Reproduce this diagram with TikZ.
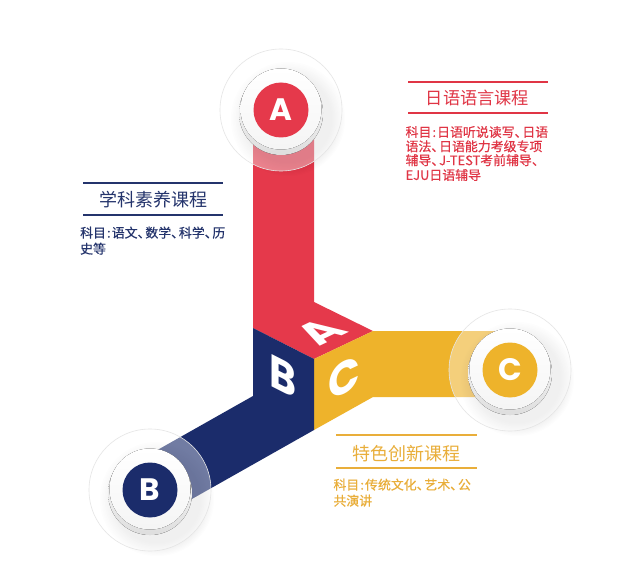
\documentclass[tikz,border=0pt]{standalone}
\usepackage{fontspec}
\newfontfamily\cjk{Noto Sans CJK SC}
\newfontfamily\cjkbody{Noto Sans CJK SC}[FakeBold=0.5]
\newfontfamily\letterfont{Poppins}
\definecolor{ared}{HTML}{E5394B}
\definecolor{anavy}{HTML}{1B2C6B}
\definecolor{ayellow}{HTML}{EEB32B}
\definecolor{tred}{HTML}{E03545}
\definecolor{tnavy}{HTML}{24346C}
\definecolor{tyellow}{HTML}{E9AE3A}
\newcommand\dun{\rlap{、}\hspace{0.6em}}
\newcommand\cln{\makebox[0.45em]{:}}
\newcommand\drawbadge[5]{%
  \begin{scope}[shift={(#2,#3)}]
    \foreach \k in {0,...,11} {\fill[black,opacity=0.009] (7,9) circle ({44pt+\k*1.2pt});}
    \fill[white,opacity=0.38] (0,0) circle (61pt);
    \draw[black!10,line width=0.6pt] (0,0) circle (61pt);
    \fill[top color=white,bottom color=black!13] (0,3) circle (42pt);
    \fill[top color=white,bottom color=black!4] (0,-1) circle (40.5pt);
    \node[badgedot,fill=#4] (#1) at (0,0) {#5};
  \end{scope}}
\begin{document}
\begin{tikzpicture}[x=1pt,y=-1pt,
  rulered/.style={draw=tred,line width=2pt},
  rulenavy/.style={draw=tnavy,line width=2pt},
  ruleyellow/.style={draw=tyellow,line width=2pt},
  titletext/.style={inner sep=0pt,anchor=center},
  bodytext/.style={inner sep=0pt,anchor=base west,font={\cjkbody\fontsize{12.9pt}{14pt}\selectfont}},
  cubeletter/.style={inner sep=0pt,text=white,transform shape,font={\letterfont\bfseries\fontsize{46pt}{46pt}\selectfont}},
  badgedot/.style={circle,minimum size=55pt,inner sep=0pt,text=white,font={\letterfont\bfseries\fontsize{31pt}{31pt}\selectfont}}]
\path[use as bounding box,fill=white] (0,0) rectangle (641,578);

% cube vertices
\coordinate (L) at (253,328);
\coordinate (O) at (314,359);
\coordinate (R) at (373,331);
\coordinate (T) at (314,302);
\coordinate (Lp) at (253,396);
\coordinate (Op) at (314,430);
\coordinate (Rp) at (373,397);
\coordinate (Bt) at (122.4,469.8);
\coordinate (Bb) at (183.4,503.8);
\coordinate (At) at (253,110);
\coordinate (Ar) at (314,110);
\coordinate (Ct) at (510,331);
\coordinate (Cb) at (510,397);

% arms and faces
\fill[ared] (At) -- (L) -- (O) -- (R) -- (T) -- (Ar) -- cycle;
\fill[ayellow] (O) -- (R) -- (Ct) -- (Cb) -- (Rp) -- (Op) -- cycle;
\fill[anavy] (L) -- (O) -- (Op) -- (Bb) -- (Bt) -- (Lp) -- cycle;

% letters on cube faces
\begin{scope}[cm={0.903,0.429,-0.892,0.453,(320,332)}]
  \node[cubeletter] (cA) at (0,0) {A};
\end{scope}
\begin{scope}[cm={0.892,-0.453,0,1,(283.5,376)}]
  \node[cubeletter] (cB) at (0,0) {B};
\end{scope}
\begin{scope}[cm={0.903,0.429,0,1,(344,378)}]
  \node[cubeletter] (cC) at (0,0) {C};
\end{scope}

% badges
\drawbadge{badgeA}{281}{110}{ared}{A}
\drawbadge{badgeB}{150}{490}{anavy}{B}
\drawbadge{badgeC}{510}{370}{ayellow}{C}

% red text block
\draw[rulered] (408.3,81.7) -- (548.3,81.7);
\draw[rulered] (408.3,113.3) -- (548.3,113.3);
\node[titletext,text=tred,font={\cjk\fontsize{17.2pt}{17.2pt}\selectfont}] (redtitle) at (477.5,98.3) {日语语言课程};
\node[bodytext,text=tred] (red1) at (405.4,136.9) {科目\cln 日语听说读写\dun 日语};
\node[bodytext,text=tred] (red2) at (405.4,151.2) {语法\dun 日语能力考级专项};
\node[bodytext,text=tred] (red3) at (405.4,165.1) {辅导\dun J-TEST考前辅导、};
\node[bodytext,text=tred] (red4) at (405.4,179.9) {EJU日语辅导};

% navy text block
\draw[rulenavy] (83.3,182.7) -- (223.3,182.7);
\draw[rulenavy] (83.3,215) -- (223.3,215);
\node[titletext,text=tnavy,font={\cjk\fontsize{18pt}{18pt}\selectfont}] (navytitle) at (153.3,200) {学科素养课程};
\node[bodytext,text=tnavy] (navy1) at (80,237.6) {科目\cln 语文\dun 数学\dun 科学\dun 历};
\node[bodytext,text=tnavy] (navy2) at (80,253.6) {史等};

% yellow text block
\draw[ruleyellow] (336,435) -- (476.7,435);
\draw[ruleyellow] (336,468.3) -- (476.7,468.3);
\node[titletext,text=tyellow,font={\cjk\fontsize{18pt}{18pt}\selectfont}] (yellowtitle) at (406.3,453.3) {特色创新课程};
\node[bodytext,text=tyellow] (yellow1) at (333.3,489.6) {科目\cln 传统文化\dun 艺术\dun 公};
\node[bodytext,text=tyellow] (yellow2) at (333.3,505.6) {共演讲};
\end{tikzpicture}
\end{document}
